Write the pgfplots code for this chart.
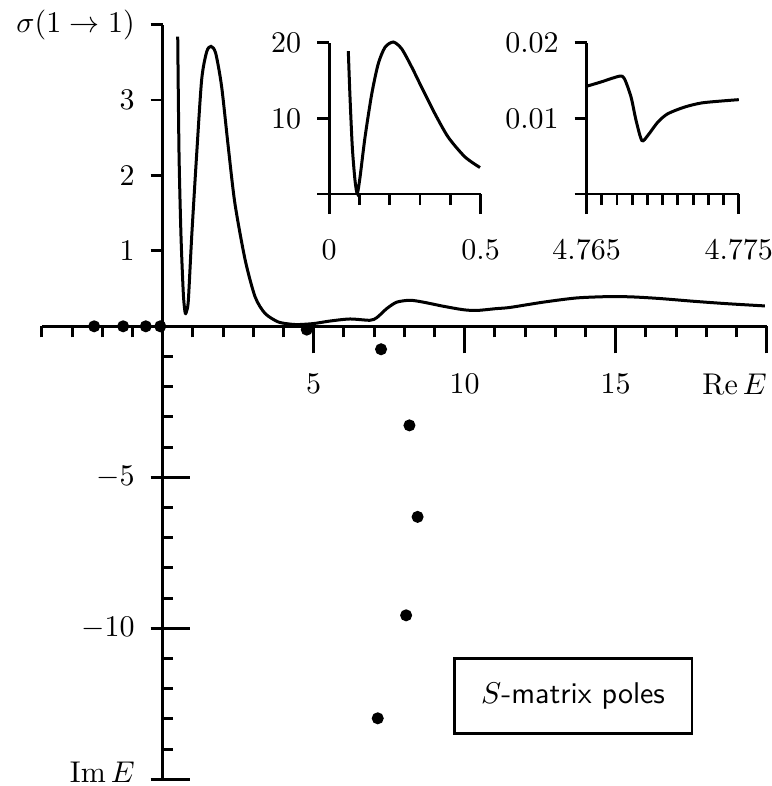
\documentclass[border=0pt]{standalone}
\usepackage{pgfplots}
\pgfplotsset{compat=1.18}
\begin{document}
\begin{tikzpicture}
\pgfplotsset{
  base/.style={scale only axis, clip=false,
    every tick/.style={black, line width=0.95pt},
    xticklabel style={yshift=-3.4pt},
    yticklabel style={xshift=-1.8pt},
    scaled ticks=false,
  },
  noarrow/.style={axis line style={-, line width=0.95pt, black},
    every inner x axis line/.append style={-}, every outer x axis line/.append style={-},
    every inner y axis line/.append style={-}, every outer y axis line/.append style={-}},
  upper/.style={base, at={(13.97pt,153.23pt)}, anchor=south west, width=241.6pt, height=100.6pt, xmin=-4,xmax=20,ymin=0,ymax=4},
  lower/.style={base, at={(13.97pt,2.23pt)}, anchor=south west, width=241.6pt, height=151pt, xmin=-4,xmax=20,ymin=-15,ymax=0},
  upperY/.style={base, at={(54.23pt,153.23pt)}, anchor=south west, width=20pt, height=100.6pt, xmin=0,xmax=1,ymin=0,ymax=4},
  lowerY/.style={base, at={(54.23pt,2.23pt)}, anchor=south west, width=20pt, height=151pt, xmin=0,xmax=1,ymin=-15,ymax=0},
  inA/.style={base, at={(109.7pt,197.33pt)}, anchor=south west, width=50.5pt, height=50.4pt, xmin=0,xmax=0.5,ymin=0,ymax=20},
  inB/.style={base, at={(195.53pt,197.33pt)}, anchor=south west, width=50.73pt, height=50.4pt, xmin=4.765,xmax=4.775,ymin=0,ymax=0.02},
  curve/.style={smooth, tension=0.45, line width=1pt, black},
}
% main x axis and cross section
\begin{axis}[upper, axis x line=bottom, hide y axis, tick align=outside, noarrow,
  xtick={5,10,15,20}, xticklabels={$5$,$10$,$15$,\llap{$\mathrm{Re}\,E$}},
  minor xtick={-4,-3,-2,-1,1,2,3,4,6,7,8,9,11,12,13,14,16,17,18,19},
  major tick length=9pt, minor tick length=3.67pt]
\addplot[curve] coordinates {
(0.497,3.84) (0.540,2.29) (0.606,1.19) (0.683,0.43) (0.735,0.20) (0.760,0.17)
(0.790,0.20) (0.849,0.345) (0.960,1.19) (1.126,2.29) (1.29,3.27) (1.457,3.64)
(1.60,3.71) (1.754,3.62) (1.95,3.18) (2.17,2.38) (2.39,1.63) (2.73,0.88)
(3.06,0.39) (3.39,0.17) (3.83,0.057) (4.27,0.027) (4.44,0.022) (4.99,0.036)
(5.54,0.07) (6.20,0.097) (6.86,0.08) (7.09,0.115)
(7.42,0.235) (7.75,0.32) (8.19,0.345) (8.63,0.32) (9.29,0.266) (9.95,0.22)
(10.40,0.21) (11.06,0.235) (11.50,0.25) (12.60,0.32) (13.71,0.376) (14.81,0.394)
(15.58,0.389) (16.47,0.368) (17.57,0.332) (18.68,0.30) (19.94,0.27)};
\end{axis}
% upper y axis
\begin{axis}[upperY, axis y line=left, hide x axis, tick align=outside, noarrow,
  ytick={1,2,3,4}, yticklabels={$1$,$2$,$3$,$\sigma(1\rightarrow1)$}, major tick length=4pt]
\end{axis}
% lower y axis: inside ticks
\begin{axis}[lowerY, axis y line=left, hide x axis, tick align=inside, noarrow,
  ytick={-5,-10,-15}, yticklabels={}, minor ytick={-1,-2,-3,-4,-6,-7,-8,-9,-11,-12,-13,-14},
  major tick length=9pt, minor tick length=3.33pt]
\end{axis}
% lower y axis: labelled outside ticks
\begin{axis}[lowerY, axis y line=left, hide x axis, tick align=outside, noarrow,
  ytick={-5,-10,-15}, yticklabels={$-5$,$-10$,\raisebox{5pt}{$\mathrm{Im}\,E$}}, major tick length=4pt]
\end{axis}
% poles
\begin{axis}[lower, hide axis]
\addplot[only marks, mark=*, mark size=1.8pt] coordinates {
(-2.27,0) (-1.31,0) (-0.56,0) (-0.08,0) (4.77,-0.11) (7.23,-0.76)
(8.17,-3.28) (8.44,-6.31) (8.06,-9.57) (7.12,-12.98)};
\node[draw, line width=0.95pt, minimum width=79.2pt, minimum height=25pt, font=\sffamily] at (axis cs:13.59,-12.24) {$S$-matrix poles};
\end{axis}
% inset 1
\begin{axis}[inA, axis x line=bottom, hide y axis, tick align=outside, noarrow,
  xticklabel style={yshift=-1.7pt},
  xtick={0,0.5}, xticklabels={$0$,$0.5$}, minor xtick={0.1,0.2,0.3,0.4},
  major tick length=6.67pt, minor tick length=3.67pt]
\addplot[curve] coordinates {
(0.0634,18.9) (0.069,12.8) (0.0766,6.2) (0.0855,1.8) (0.093,0.1) (0.102,2.2)
(0.1185,7.5) (0.1406,13.2) (0.162,17.2) (0.1845,19.4) (0.212,20.1) (0.2396,19.2)
(0.2726,16.8) (0.3056,14.1) (0.3495,10.6) (0.3934,7.5) (0.4485,4.9) (0.498,3.5)};
\end{axis}
\begin{axis}[inA, axis y line=left, hide x axis, tick align=outside, noarrow,
  ytick={0,10,20}, yticklabels={,$10$,$20$}, major tick length=4pt]
\end{axis}
% inset 2
\begin{axis}[inB, axis x line=bottom, hide y axis, tick align=outside, noarrow,
  xticklabel style={yshift=-1.7pt},
  xtick={4.765,4.775}, xticklabels={$4.765$,$4.775$},
  minor xtick={4.766,4.767,4.768,4.769,4.770,4.771,4.772,4.773,4.774},
  major tick length=6.67pt, minor tick length=3.67pt]
\addplot[curve] coordinates {
(4.765,0.01425) (4.76595,0.01482) (4.76715,0.01558) (4.76748,0.01527) (4.76792,0.01283)
(4.76825,0.00973) (4.76863,0.00708) (4.76902,0.00774) (4.76968,0.00951) (4.77034,0.01062)
(4.77144,0.01150) (4.77254,0.01204) (4.77386,0.01230) (4.775,0.01248)};
\end{axis}
\begin{axis}[inB, axis y line=left, hide x axis, tick align=outside, noarrow,
  ytick={0,0.01,0.02}, yticklabels={,$0.01$,$0.02$}, major tick length=4pt]
\end{axis}
\pgfresetboundingbox
\path[use as bounding box] (0pt,0pt) rectangle (257.33pt,262pt);
\end{tikzpicture}
\end{document}
